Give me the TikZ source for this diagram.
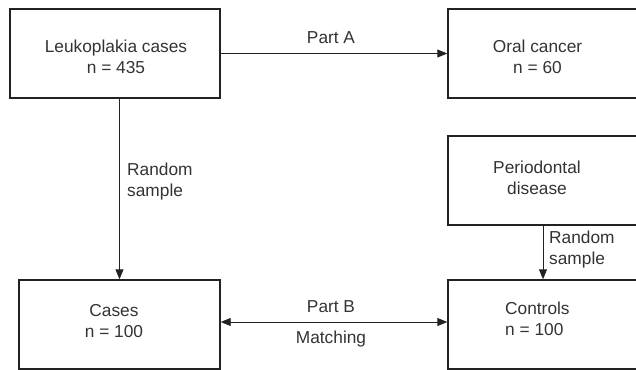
\documentclass[tikz,border=0pt]{standalone}
\usepackage{fontspec}
\setmainfont{Liberation Sans}
\usetikzlibrary{arrows.meta}
\definecolor{ink}{HTML}{222222}
\definecolor{txtc}{HTML}{333333}
\tikzset{
  box/.style={draw=ink, line width=1.4pt, rectangle, inner sep=0pt},
  txt/.style={text=txtc, font=\fontsize{17.3}{21}\selectfont, inner sep=0pt},
  conn/.style={draw=ink, line width=0.9pt, -{Triangle[length=10pt,width=8pt]}},
  dconn/.style={draw=ink, line width=0.9pt, {Triangle[length=10pt,width=8pt]}-{Triangle[length=10pt,width=8pt]}}
}
\begin{document}
\begin{tikzpicture}[x=1pt,y=1pt]
\useasboundingbox (0,0) rectangle (636,-369);
\clip (0,0) rectangle (636,-369);
% boxes
\node[box, minimum width=210pt, minimum height=89pt] (A) at (115,-53.5) {};
\node[box, minimum width=190pt, minimum height=89pt] (B) at (543,-53.5) {};
\node[box, minimum width=190pt, minimum height=89pt] (C) at (543,-180.5) {};
\node[box, minimum width=201pt, minimum height=89pt] (D) at (119.5,-324.5) {};
\node[box, minimum width=190pt, minimum height=89pt] (E) at (543,-324.5) {};
% texts
\node[txt, align=center] (At) at (116,-57) {Leukoplakia cases\\n = 435};
\node[txt, align=center] (Bt) at (537.5,-57) {Oral cancer\\n = 60};
\node[txt, align=center] (Ct) at (537,-178) {Periodontal\\disease};
\node[txt, align=center] (Dt) at (114,-321) {Cases\\n = 100};
\node[txt, align=left, anchor=west] (Et) at (505,-319) {Controls\\n = 100};
% connectors
\draw[conn] (A.east) -- (B.west);
\node[txt] (pa) at (331,-38) {Part A};
\draw[conn] (A.south -| D.north) -- (D.north);
\node[txt, align=left, anchor=west] (rs1) at (127,-182) {Random\\sample};
\draw[conn] (C.south) -- (E.north);
\node[txt, align=left, anchor=west] (rs2) at (549,-250) {Random\\sample};
\coordinate (pb) at (331,-322);
\draw[dconn] (D.east |- pb) -- (E.west |- pb);
\node[txt] (pbt) at (331,-307) {Part B};
\node[txt] (mt) at (331,-339) {Matching};
\end{tikzpicture}
\end{document}
